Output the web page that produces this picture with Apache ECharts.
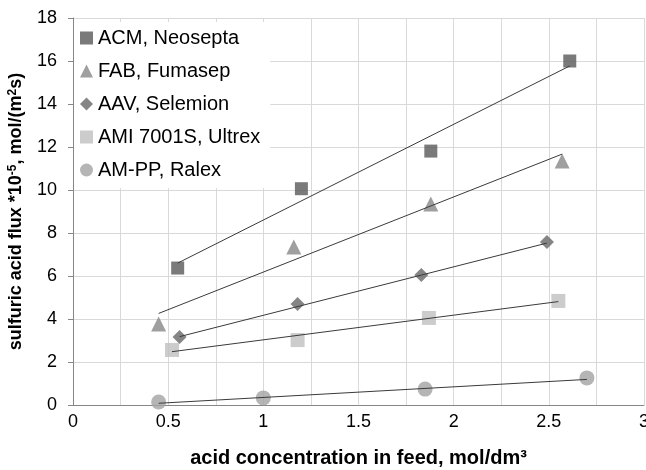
<!DOCTYPE html>
<html lang="en">
<head>
    <meta charset="UTF-8">
    <title>Sulfuric acid flux</title>
    <script src="https://cdn.jsdelivr.net/npm/echarts@6.0.0/dist/echarts.min.js"></script>
    <style>
        body { margin: 0; background: #fff; }
    </style>
</head>
<body>
    <div id="main" style="width: 646px;height:470px;"></div>
    <script type="text/javascript">
        // membrane names (legend)
        const names = ['ACM, Neosepta', 'FAB, Fumasep', 'AAV, Selemion', 'AMI 7001S, Ultrex', 'AM-PP, Ralex'];

        // measured points: acid concentration (x) and flux *10^-5 (y)
        const xACM = [0.55, 1.20, 1.88, 2.61];
        const yACM = [6.37, 10.06, 11.81, 16.0];
        const xFAB = [0.45, 1.16, 1.88, 2.57];
        const yFAB = [3.77, 7.35, 9.35, 11.35];
        const xAAV = [0.56, 1.18, 1.83, 2.49];
        const yAAV = [3.16, 4.70, 6.05, 7.58];
        const xAMI = [0.52, 1.18, 1.87, 2.55];
        const yAMI = [2.56, 3.02, 4.05, 4.84];
        const xAMPP = [0.45, 1.00, 1.85, 2.70];
        const yAMPP = [0.14, 0.33, 0.74, 1.26];

        // trend line ends
        const trendACM = [[0.55, 6.6], [2.61, 15.77]];
        const trendFAB = [[0.45, 4.26], [2.57, 11.67]];
        const trendAAV = [[0.56, 3.18], [2.49, 7.53]];
        const trendAMI = [[0.52, 2.48], [2.55, 4.81]];
        const trendAMPP = [[0.45, 0.08], [2.70, 1.19]];

        const xs = [xACM, xFAB, xAAV, xAMI, xAMPP];
        const ys = [yACM, yFAB, yAAV, yAMI, yAMPP];
        const trends = [trendACM, trendFAB, trendAAV, trendAMI, trendAMPP];

        const colors = ['#595959', '#878787', '#666666', '#bfbfbf', '#a3a3a3'];
        const symbols = ['rect', 'triangle', 'diamond', 'rect', 'circle'];
        const sizes = [13, 15, 14, 14, 15];

        const font = 'Liberation Sans, Arial, sans-serif';

        let series = [];
        for (let i = 0; i < names.length; i++) {
            series.push({
                name: names[i],
                type: 'scatter',
                symbol: symbols[i],
                symbolSize: sizes[i],
                itemStyle: { color: colors[i] },
                data: xs[i].map((x, j) => [x, ys[i][j]]),
                z: 2
            });
        }
        for (let i = 0; i < trends.length; i++) {
            series.push({
                name: 'trend ' + i,
                type: 'line',
                data: trends[i],
                symbol: 'none',
                lineStyle: { color: '#3a3a3a', width: 1 },
                silent: true,
                z: 3
            });
        }

        let options = {
            animation: false,
            textStyle: { fontFamily: font },
            grid: { left: 73, right: 2, top: 18, bottom: 65, outerBoundsMode: 'none' },
            legend: {
                data: names.map((n, i) => ({ name: n, icon: symbols[i] })),
                orient: 'vertical',
                left: 74,
                top: 22,
                padding: [6, 10, 8, 6],
                itemWidth: 13,
                itemHeight: 13,
                itemGap: 13,
                backgroundColor: '#fff',
                textStyle: { fontSize: 20, color: '#000', fontFamily: font }
            },
            xAxis: {
                type: 'value',
                min: 0,
                max: 3,
                interval: 0.5,
                name: 'acid concentration in feed, mol/dm³',
                nameLocation: 'middle',
                nameGap: 43,
                nameTextStyle: { fontSize: 20, fontWeight: 'bold', color: '#000', verticalAlign: 'top' },
                axisLine: { show: true, lineStyle: { color: '#868686' } },
                axisTick: { show: false },
                axisLabel: { fontSize: 18, color: '#000', margin: 8 },
                splitLine: { show: true, lineStyle: { color: '#d9d9d9' } },
                minorTick: { show: false, splitNumber: 2 },
                minorSplitLine: { show: true, lineStyle: { color: '#d9d9d9' } }
            },
            yAxis: {
                type: 'value',
                min: 0,
                max: 18,
                interval: 2,
                name: 'sulfuric acid flux *10{sup|-5}, mol/(m{sup|2}s)',
                nameLocation: 'middle',
                nameGap: 47,
                nameTextStyle: {
                    fontSize: 18, fontWeight: 'bold', color: '#000',
                    rich: {
                        sup: { fontSize: 12, fontWeight: 'bold', color: '#000', verticalAlign: 'top', padding: [0, 0, 7, 0] }
                    }
                },
                axisLine: { show: true, lineStyle: { color: '#868686' } },
                axisTick: { show: true, length: 5, lineStyle: { color: '#868686' } },
                axisLabel: { fontSize: 18, color: '#000', margin: 16 },
                splitLine: { show: true, lineStyle: { color: '#d9d9d9' } }
            },
            series: series
        };

        let myChart = echarts.init(document.getElementById('main'));
        myChart.setOption(options);
    </script>
</body>
</html>
